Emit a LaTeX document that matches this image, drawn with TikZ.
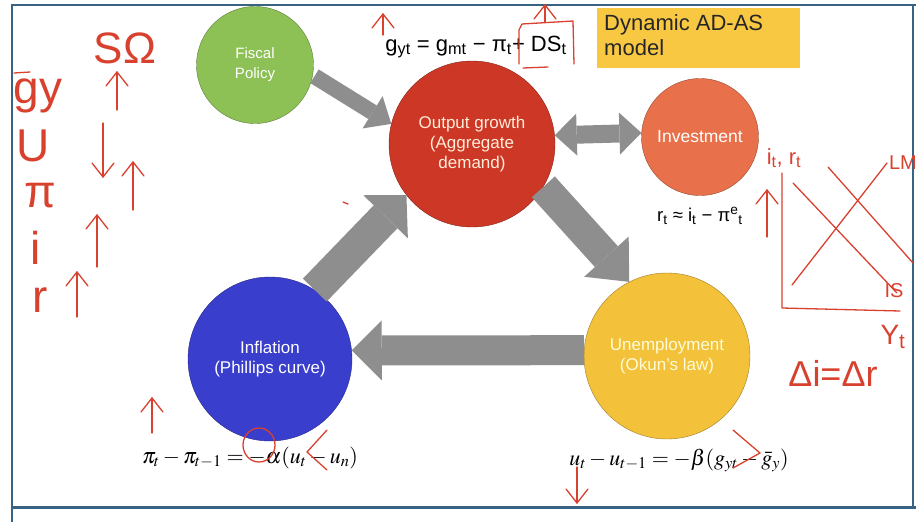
\documentclass[tikz,border=0pt]{standalone}
\usepackage{mathptmx}
\usepackage{fontspec}
\setmainfont{Liberation Sans}
\usetikzlibrary{arrows.meta,positioning}
\definecolor{fiscalgreen}{HTML}{8DC155}
\definecolor{outputred}{HTML}{CD3726}
\definecolor{investorange}{HTML}{E8714B}
\definecolor{inflblue}{HTML}{3A3ECC}
\definecolor{unempyellow}{HTML}{F3C13A}
\definecolor{blockgray}{HTML}{8E8E8E}
\definecolor{titleyellow}{HTML}{F8C843}
\definecolor{frameblue}{HTML}{3A6283}
\definecolor{ink}{HTML}{D9412F}

\begin{document}
\begin{tikzpicture}[
    x=1pt, y=-1pt,
    circ/.style={circle, draw=#1!65!black, fill=#1, text=white, align=center, inner sep=0pt, font=\fontsize{17}{20}\selectfont},
    fatarrow/.style n args={3}{blockgray, line width=#1, -{Triangle[width=#2, length=#3, line width=0pt]}},
    inkline/.style={ink, line width=1.3pt, line cap=round, line join=round},
    hand/.style={text=ink, inner sep=0pt, font=\fontsize{#1}{#1}\selectfont},
    pics/inkup/.style={code={
        \draw[inkline] (0,0) -- (0,-#1);
        \draw[inkline] (-11,-#1+14) -- (0,-#1) -- (11,-#1+14);
    }}
]
    \useasboundingbox (0,0) rectangle (916,522);

    % Frame
    \draw[frameblue, line width=2pt] (12,522) -- (12,5) -- (916,5);
    \draw[frameblue, line width=1.5pt] (913,5) -- (913,507);
    \draw[frameblue, line width=3pt] (11,507) -- (916,507);

    % Circles
    \node[circ=fiscalgreen, minimum size=117pt, font=\fontsize{15}{20}\selectfont] (fiscal) at (255,65) {Fiscal\\Policy};
    \node[circ=outputred, minimum size=166pt, text=white!85!orange] (output) at (472,144) {Output growth\\(Aggregate\\demand)};
    \node[circ=investorange, minimum size=117pt, font=\fontsize{17.5}{20}\selectfont] (invest) at (700,137) {Investment};
    \node[circ=inflblue, minimum size=164pt] (infl) at (270,359) {Inflation\\(Phillips curve)};
    \node[circ=unempyellow, minimum size=166pt, text=white!85!yellow] (unemp) at (667,356) {Unemployment\\(Okun's law)};

    % Block arrows
    \draw[fatarrow={16pt}{38pt}{22pt}, shorten <=2pt] (fiscal.-10) -- (output.166);
    \draw[blockgray, line width=18pt, {Triangle[width=42pt, length=22pt, line width=0pt]}-{Triangle[width=42pt, length=22pt, line width=0pt]}] (output.6) -- (invest.176);
    \draw[fatarrow={33pt}{62pt}{30pt}] (infl.57) -- (output.218);
    \draw[fatarrow={31pt}{60pt}{34pt}] (output.-31) -- (unemp.117);
    \draw[fatarrow={30pt}{60pt}{30pt}] (unemp.176) -- (infl.6);

    % Equations
    \node[font=\fontsize{22}{24}\selectfont] (eqgy) at (476,47) {g\textsubscript{yt} = g\textsubscript{mt} − π\textsubscript{t}+ DS\textsubscript{t}};
    \node[fill=titleyellow, minimum width=203pt, minimum height=60pt, anchor=north west, inner xsep=6pt, font=\fontsize{22}{25}\selectfont, text=black!85] (title) at (597,8) {\begin{tabular}{@{}l@{}}Dynamic AD-AS\\model\end{tabular}\hspace*{30pt}};
    \node[below=8pt of invest, font=\fontsize{18.5}{20}\selectfont] (eqr) {r\textsubscript{t} ≈ i\textsubscript{t} − π\textsuperscript{e}\textsubscript{t}};
    \node[below=2pt of infl, xshift=-20pt, font=\fontsize{22}{24}\selectfont] (eqpi) {$\pi_t - \pi_{t-1} = -\alpha(u_t - u_n)$};
    \node[below=6pt of unemp, xshift=12pt, font=\fontsize{22}{24}\selectfont] (equ) {$u_t - u_{t-1} = -\beta(g_{yt} - \bar{g}_y)$};

    % Handwritten notes, left
    \node[hand=46] (hgy) at (38,96) {gy};
    \draw[inkline] (14,73) -- (30,72);
    \node[hand=46] (hu) at (33,146) {U};
    \node[hand=46] (hpi) at (40,196) {π};
    \node[hand=46] (hi) at (36,248) {i};
    \node[hand=46] (hr) at (40,300) {r};
    \node[hand=44] (hso) at (125,48) {SΩ};
    \pic at (117,110) {inkup=38};
    \pic[rotate=180] at (103,123) {inkup=54};
    \pic at (133,210) {inkup=48};
    \pic at (97,267) {inkup=52};
    \pic at (77,317) {inkup=45};

    % Handwritten notes, top
    \pic at (383,35) {inkup=21};
    \draw[inkline] (519,64) -- (519,30) -- (522,24) -- (573,21) -- (574,64);
    \draw[inkline] (523,68) -- (548,67);
    \pic at (545,22) {inkup=17};

    % Handwritten notes, right
    \node[hand=22] (hir) at (784,158) {i\textsubscript{t}, r\textsubscript{t}};
    \node[hand=20] (hlm) at (903,163) {LM};
    \node[hand=20] (his) at (894,291) {IS};
    \node[hand=28] (hyt) at (893,337) {Y\textsubscript{t}};
    \node[hand=36] (hdelta) at (833,373) {Δi=Δr};
    \pic at (767,237) {inkup=47};
    \draw[inkline] (782,173) -- (782,308) -- (900,311);
    \draw[inkline] (793,183) -- (897,293);
    \draw[inkline] (792,285) -- (887,163);
    \draw[inkline] (828,167) -- (913,263);

    % Handwritten notes, bottom
    \pic at (152,433) {inkup=35};
    \draw[inkline] (259,445) ellipse (16 and 17);
    \draw[inkline] (327,430) -- (307,452) -- (327,470);
    \draw[inkline] (733,430) -- (760,453) -- (733,468);
    \pic[rotate=180] at (577,467) {inkup=36};
    \draw[inkline] (343,202) -- (348,204);
\end{tikzpicture}
\end{document}
